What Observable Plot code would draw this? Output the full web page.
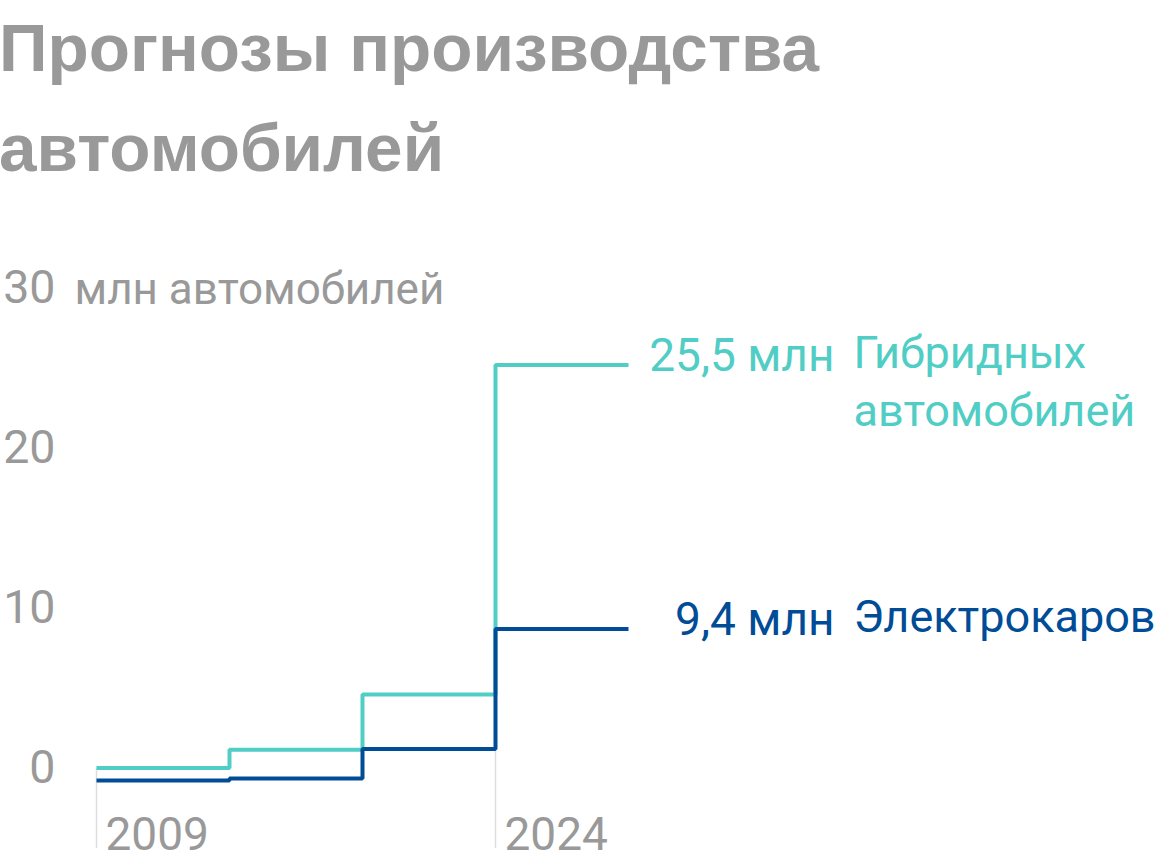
<!DOCTYPE html>
<html>
<head>
<meta charset="utf-8">
<script src="https://cdn.jsdelivr.net/npm/d3@7"></script>
<script src="https://cdn.jsdelivr.net/npm/@observablehq/plot@0.6"></script>
<style>
  html, body { margin: 0; padding: 0; background: #fff; }
  body { width: 1160px; height: 864px; overflow: hidden; position: relative; }
  #title {
    position: absolute; left: -1px; top: -2px; margin: 0;
    font-family: "Liberation Sans", Arial, sans-serif; font-weight: bold;
    font-size: 67.5px; line-height: 100px; color: #999999; white-space: nowrap;
  }
  #chart { position: absolute; left: 0; top: 200px; }
  #chart svg { overflow: visible; }
</style>
</head>
<body>
<div id="title">Прогнозы производства<br>автомобилей</div>
<div id="chart"></div>
<script>
// ---- data ----
const years = [2009, 2014, 2019, 2024, 2029];
const hybrid = [0.9, 2.05, 5.5, 26.1, 26.1];
const electric = [0.12, 0.25, 2.1, 9.6, 9.6];
const yTicks = [0, 10, 20, 30];
const xTicks = [2009, 2024];
const yUnit = "млн автомобилей";
const seriesValueLabels = ["25,5 млн", "9,4 млн"];
const seriesNames = ["Гибридных\nавтомобилей", "Электрокаров"];
const seriesColors = ["#50cdc4", "#004c97"];

const hybridData = years.map((x, i) => ({x, y: hybrid[i]}));
const electricData = years.map((x, i) => ({x, y: electric[i]}));
const ends = [
  {x: years[years.length - 1], y: hybrid[hybrid.length - 1], v: seriesValueLabels[0], n: seriesNames[0], c: seriesColors[0]},
  {x: years[years.length - 1], y: electric[electric.length - 1], v: seriesValueLabels[1], n: seriesNames[1], c: seriesColors[1]}
];
const ruleData = xTicks.map(x => ({x, y: hybrid[years.indexOf(x)]}));

const font = "Roboto, 'Noto Sans', sans-serif";
const gray = "#999999";

const plot = Plot.plot({
  width: 1160,
  height: 664,
  marginLeft: 96,
  marginRight: 532,
  marginTop: 102,
  marginBottom: 82,
  style: {fontFamily: font, background: "transparent", overflow: "visible"},
  x: {domain: [2009, 2029], axis: null, label: null},
  y: {domain: [0, 30], axis: null, label: null},
  marks: [
    Plot.ruleX(ruleData, {x: "x", y1: 0, y2: "y", stroke: "#dddddd", strokeWidth: 1.5}),
    Plot.axisX({ticks: xTicks, tickSize: 66, text: null, label: null, stroke: "#dddddd", strokeWidth: 1.5}),
    Plot.axisX({ticks: xTicks, tickSize: 0, tickPadding: 35, tickFormat: d => String(d), label: null,
      textAnchor: "start", dx: 9, fontSize: 46, fill: gray}),
    Plot.axisY({ticks: yTicks, tickSize: 0, tickPadding: 41, tickFormat: d => String(d), label: null,
      fontSize: 46.5, fill: gray, dy: -14}),
    Plot.text([yUnit], {y: [30], frameAnchor: "left", text: d => d, textAnchor: "start",
      dx: -22, dy: -13, fontSize: 44, fill: gray}),
    Plot.line(hybridData, {x: "x", y: "y", curve: "step-after", stroke: seriesColors[0],
      strokeWidth: 4, strokeLinecap: "butt", strokeLinejoin: "miter"}),
    Plot.line(electricData, {x: "x", y: "y", curve: "step-after", stroke: seriesColors[1],
      strokeWidth: 4, strokeLinecap: "butt", strokeLinejoin: "miter"}),
    Plot.text(ends, {x: "x", y: "y", text: "v", fill: "c", textAnchor: "end",
      lineAnchor: "top", dx: 206, dy: -27, fontSize: 46}),
    Plot.text(ends, {x: "x", y: "y", text: "n", fill: "c", textAnchor: "start",
      lineAnchor: "top", lineHeight: 1.29, dx: 225, dy: -38, fontSize: 45})
  ]
});
document.getElementById("chart").appendChild(plot);
</script>
</body>
</html>
